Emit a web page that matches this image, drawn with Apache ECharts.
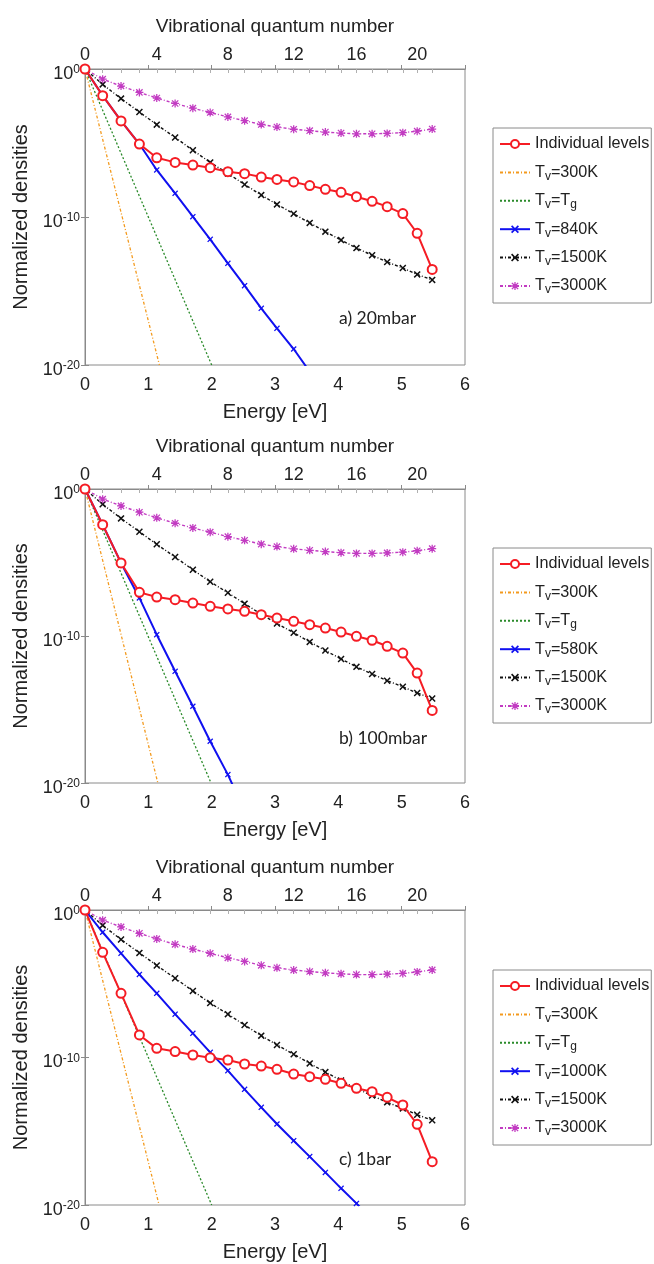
<!DOCTYPE html>
<html><head><meta charset="utf-8">
<script src="https://cdn.jsdelivr.net/npm/echarts@6/dist/echarts.min.js"></script>
<style>html,body{margin:0;padding:0;background:#fff}#c{width:654px;height:1264px}</style>
</head><body><div id="c"></div><script>
const levelEnergy = [0,0.279,0.569,0.859,1.133,1.423,1.703,1.977,2.256,2.520,2.783,3.031,3.295,3.548,3.795,4.043,4.286,4.533,4.771,5.018,5.245,5.482];
const vibLabels = [0,4,8,12,16,20];
const energyTicks = [0,1,2,3,4,5,6];
// log10 of normalized densities at each level
const levelsA = [0,-1.80,-3.51,-5.07,-6.00,-6.31,-6.49,-6.67,-6.94,-7.07,-7.30,-7.46,-7.63,-7.88,-8.13,-8.33,-8.63,-8.94,-9.30,-9.77,-11.10,-13.54];
const levelsB = [0,-2.43,-5.03,-7.03,-7.35,-7.53,-7.76,-7.98,-8.16,-8.32,-8.55,-8.78,-9.00,-9.23,-9.46,-9.73,-10.02,-10.29,-10.70,-11.16,-12.52,-15.06];
const levelsC = [0,-2.87,-5.65,-8.47,-9.38,-9.60,-9.83,-10.01,-10.17,-10.44,-10.58,-10.80,-11.12,-11.30,-11.48,-11.75,-12.09,-12.32,-12.70,-13.22,-14.53,-17.06];
const lowA = [0,-1.80,-3.51,-5.07,-6.82,-8.40,-9.98,-11.51,-13.13,-14.64,-16.17,-17.52,-18.92,-20.45];
const lowB = [0,-2.43,-5.03,-7.41,-9.91,-12.40,-14.78,-17.16,-19.43,-21.90];
const lowC = [0,-1.51,-2.94,-4.37,-5.65,-7.06,-8.36,-9.65,-10.89,-12.16,-13.38,-14.51,-15.64,-16.72,-17.79,-18.87,-19.89,-21.00];
const tv1500 = [0,-1.04,-2.00,-2.91,-3.76,-4.63,-5.49,-6.31,-7.06,-7.80,-8.52,-9.15,-9.78,-10.40,-10.99,-11.56,-12.10,-12.58,-13.04,-13.45,-13.88,-14.25];
const tv3000 = [0,-0.69,-1.15,-1.58,-1.96,-2.33,-2.65,-2.94,-3.24,-3.49,-3.75,-3.92,-4.07,-4.17,-4.26,-4.33,-4.38,-4.38,-4.35,-4.30,-4.20,-4.06];
// Boltzmann straight lines: [energy, log10 density] end points
const tv300A = [[0,0],[1.175,-20]], tv300B = [[0,0],[1.15,-20]], tv300C = [[0,0],[1.17,-20]];
const tvTgA = [[0,0],[2.00,-20]], tvTgB = [[0,0],[1.99,-20]], tvTgC = [[0,0],[2.00,-20]];
const panelLabels = ['a) 20mbar','b) 100mbar','c) 1bar'];
const lowNames = ['Tv=840K','Tv=580K','Tv=1000K'];

const panels = [
  {levels: levelsA, low: lowA, t300: tv300A, tg: tvTgA},
  {levels: levelsB, low: lowB, t300: tv300B, tg: tvTgB},
  {levels: levelsC, low: lowC, t300: tv300C, tg: tvTgC}
];
const gridTops = [69, 489, 910];
const gridHeights = [296, 294, 295];
const legendTops = [128, 548, 970];
const labelTops = [319, 739, 1160];

const FONT = 'Liberation Sans, Arial, sans-serif';
const GRAY = '#8a8a8a';
const toPts = arr => arr.map((v, i) => [levelEnergy[i], v]);
const xPath = 'path://M1.5,0L5,3.5L8.5,0L10,1.5L6.5,5L10,8.5L8.5,10L5,6.5L1.5,10L0,8.5L3.5,5L0,1.5Z';
const starPath = 'path://M4.2,0H5.8V4.2H10V5.8H5.8V10H4.2V5.8H0V4.2H4.2Z M1.6,0.5L5,3.9L8.4,0.5L9.5,1.6L6.1,5L9.5,8.4L8.4,9.5L5,6.1L1.6,9.5L0.5,8.4L3.9,5L0.5,1.6Z';

const grid = [], xAxis = [], yAxis = [], series = [], legend = [], graphic = [];
panels.forEach((p, k) => {
  grid.push({left: 85, right: 189, top: gridTops[k], height: gridHeights[k], show: true, borderColor: GRAY, borderWidth: 1, containLabel: false});
  xAxis.push({
    type: 'value', gridIndex: k, min: 0, max: 6, interval: 1, position: 'bottom',
    name: 'Energy [eV]', nameLocation: 'middle', nameGap: 37,
    nameTextStyle: {fontFamily: FONT, fontSize: 20, color: '#222'},
    axisLine: {show: true, lineStyle: {color: GRAY}},
    axisTick: {show: true, inside: true, length: 4, lineStyle: {color: GRAY}},
    axisLabel: {fontFamily: FONT, fontSize: 18, color: '#222', margin: 11},
    splitLine: {show: false}
  });
  xAxis.push({
    type: 'value', gridIndex: k, min: 0, max: 6, position: 'top',
    name: 'Vibrational quantum number', nameLocation: 'middle', nameGap: 33,
    nameTextStyle: {fontFamily: FONT, fontSize: 19, color: '#222'},
    axisLine: {show: true, lineStyle: {color: GRAY}},
    axisTick: {show: true, inside: true, length: 4, lineStyle: {color: '#b0b0b0'}, customValues: levelEnergy},
    axisLabel: {fontFamily: FONT, fontSize: 18, color: '#222', margin: 5,
      customValues: vibLabels.map(v => levelEnergy[v]),
      formatter: val => String(levelEnergy.indexOf(val))},
    splitLine: {show: false}
  });
  yAxis.push({
    type: 'value', gridIndex: k, min: -20, max: 0, interval: 10, position: 'left',
    name: 'Normalized densities', nameLocation: 'middle', nameGap: 50,
    nameTextStyle: {fontFamily: FONT, fontSize: 20, color: '#222'},
    axisLine: {show: true, lineStyle: {color: GRAY}},
    axisTick: {show: true, inside: true, length: 4, lineStyle: {color: GRAY}},
    axisLabel: {margin: 5, padding: [9, 0, 0, 0], formatter: v => '{b|10}{s|' + v + '}',
      rich: {b: {fontFamily: FONT, fontSize: 18, color: '#222', lineHeight: 19, verticalAlign: 'bottom'},
             s: {fontFamily: FONT, fontSize: 12, color: '#222', lineHeight: 12, verticalAlign: 'top'}}},
    splitLine: {show: false}
  });
  yAxis.push({
    type: 'value', gridIndex: k, min: -20, max: 0, interval: 10, position: 'right',
    axisLine: {show: true, lineStyle: {color: GRAY}},
    axisTick: {show: true, inside: true, length: 4, lineStyle: {color: GRAY}},
    axisLabel: {show: false}, splitLine: {show: false}
  });
  const xi = 2 * k, yi = 2 * k;
  const base = {type: 'line', xAxisIndex: xi, yAxisIndex: yi, clip: true, animation: false};
  series.push(Object.assign({}, base, {name: 'Tv=300K', data: p.t300, symbol: 'none',
    lineStyle: {color: '#f39a1e', width: 1.3, type: [3, 2, 1, 2]}, itemStyle: {color: '#f39a1e'}, z: 2}));
  series.push(Object.assign({}, base, {name: 'Tv=Tg', data: p.tg, symbol: 'none',
    lineStyle: {color: '#2a8a2a', width: 1.3, type: [2, 2]}, itemStyle: {color: '#2a8a2a'}, z: 2}));
  series.push(Object.assign({}, base, {name: lowNames[k], data: toPts(p.low), symbol: xPath, symbolSize: 6,
    lineStyle: {color: '#1010f0', width: 2}, itemStyle: {color: '#1010f0'}, z: 3}));
  series.push(Object.assign({}, base, {name: 'Tv=1500K', data: toPts(tv1500), symbol: xPath, symbolSize: 7,
    lineStyle: {color: '#111', width: 1.4, type: [3, 2, 1, 2]}, itemStyle: {color: '#111'}, z: 3}));
  series.push(Object.assign({}, base, {name: 'Tv=3000K', data: toPts(tv3000), symbol: starPath, symbolSize: 8,
    lineStyle: {color: '#c23bc2', width: 1.4, type: [3, 2, 1, 2]}, itemStyle: {color: '#c23bc2'}, z: 3}));
  series.push(Object.assign({}, base, {name: 'Individual levels', data: toPts(p.levels), symbol: 'emptyCircle', symbolSize: 9,
    lineStyle: {color: '#f51c24', width: 2}, itemStyle: {color: '#f51c24', borderWidth: 1.4}, z: 5}));
  legend.push({
    orient: 'vertical', left: 493, top: legendTops[k],
    data: ['Individual levels',
      {name: 'Tv=300K', itemStyle: {opacity: 0}},
      {name: 'Tv=Tg', itemStyle: {opacity: 0}},
      lowNames[k], 'Tv=1500K', 'Tv=3000K'],
    itemWidth: 30, itemHeight: 10, itemGap: 8.4,
    padding: [6, 2, 7, 6], borderColor: GRAY, borderWidth: 1, backgroundColor: '#fff',
    selectedMode: false,
    formatter: name => {
      if (name.indexOf('Tv=') !== 0) return '{t|' + name + '}';
      const rest = name.slice(3);
      if (rest === 'Tg') return '{t|T}{s|v}{t|=T}{s|g}';
      return '{t|T}{s|v}{t|=' + rest + '}';
    },
    textStyle: {fontFamily: FONT, fontSize: 16.2, color: '#222', lineHeight: 20,
      rich: {t: {fontFamily: FONT, fontSize: 16.2, color: '#222', lineHeight: 20, verticalAlign: 'middle'},
             s: {fontFamily: FONT, fontSize: 12, color: '#222', lineHeight: 12, verticalAlign: 'bottom'}}}
  });
  graphic.push({type: 'text', left: 339, top: labelTops[k] - 10,
    style: {text: panelLabels[k], font: '17.5px Lato, "Open Sans", sans-serif', fill: '#222'}});
});

const chart = echarts.init(document.getElementById('c'), null, {renderer: 'canvas'});
chart.setOption({animation: false, backgroundColor: '#fff', grid, xAxis, yAxis, series, legend, graphic});
</script></body></html>
